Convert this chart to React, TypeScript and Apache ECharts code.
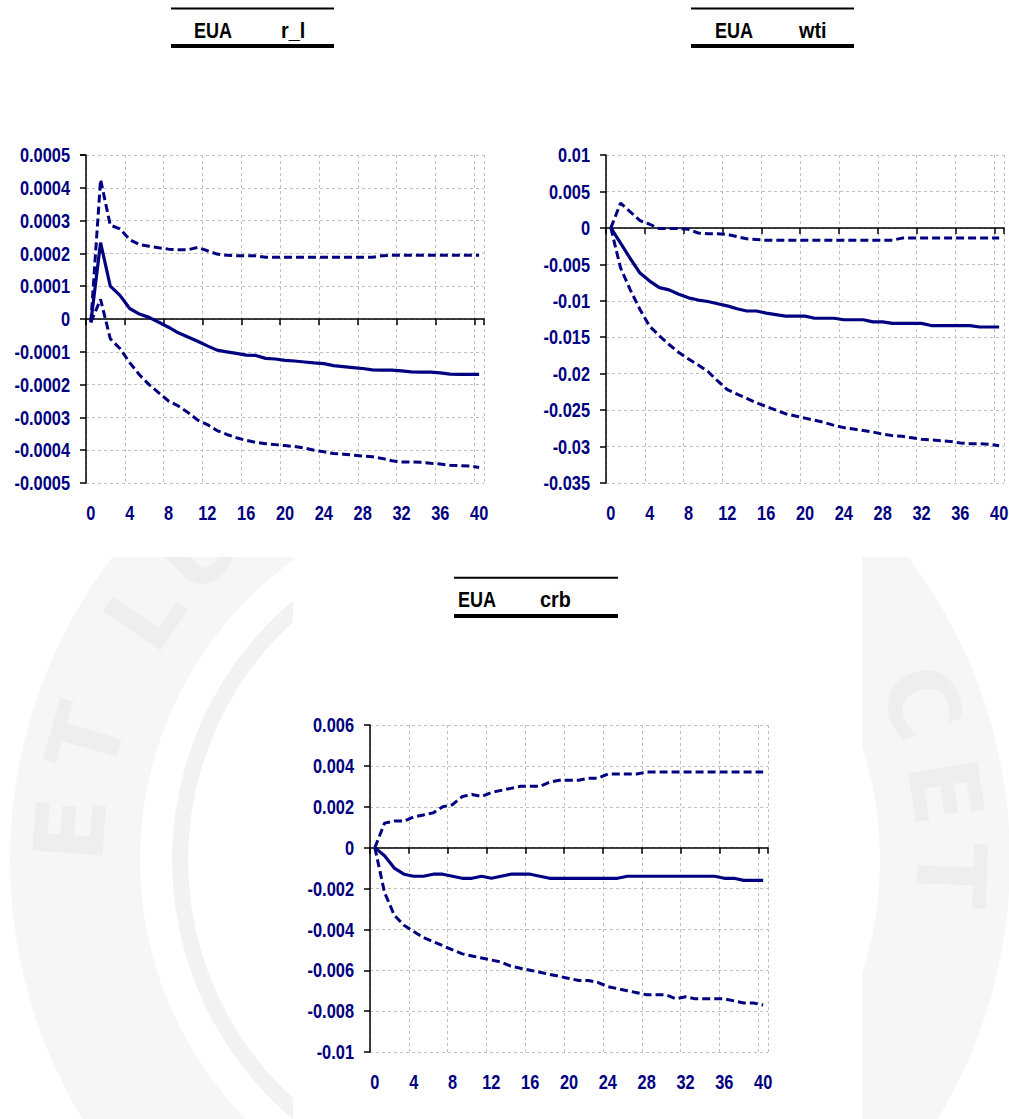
import { useEffect, useRef } from "react";
import * as echarts from "echarts";

const NAVY = "#000080";
const LABEL_FONT = 'bold 21px "Liberation Sans", Arial, sans-serif';
const TITLE_FONT = 'bold 22px "Liberation Sans", Arial, sans-serif';

// Horizon categories 0..40 and the ones that carry a tick label
const horizons: string[] = Array.from({ length: 41 }, (_, i) => String(i));
const xTickLabels = ["0", "4", "8", "12", "16", "20", "24", "28", "32", "36", "40"];

// ---------- EUA -> r_l ----------
const rlTickLabels = ["-0.0005", "-0.0004", "-0.0003", "-0.0002", "-0.0001", "0", "0.0001", "0.0002", "0.0003", "0.0004", "0.0005"];
const rlCenter = [
  -0.00001, 0.000233, 0.0001, 0.000072, 0.000032, 0.000015, 0.000005, -0.00001, -0.000025, -0.000042,
  -0.000055, -0.000068, -0.000082, -0.000095, -0.0001, -0.000105, -0.00011, -0.000111, -0.00012, -0.000122,
  -0.000126, -0.000128, -0.000131, -0.000134, -0.000136, -0.000142, -0.000145, -0.000148, -0.000151, -0.000155,
  -0.000156, -0.000156, -0.000158, -0.000161, -0.000162, -0.000162, -0.000164, -0.000168, -0.000169, -0.000169,
  -0.000169,
];
const rlUpper = [
  -0.00001, 0.000425, 0.000286, 0.000275, 0.000242, 0.000227, 0.000222, 0.000217, 0.000213, 0.000211,
  0.000211, 0.000218, 0.000208, 0.000198, 0.000194, 0.000193, 0.000193, 0.000193, 0.000188, 0.000188,
  0.000188, 0.000188, 0.000188, 0.000188, 0.000188, 0.000188, 0.000188, 0.000188, 0.000188, 0.000188,
  0.000193, 0.000194, 0.000194, 0.000194, 0.000194, 0.000194, 0.000194, 0.000194, 0.000194, 0.000194,
  0.000194,
];
const rlLower = [
  -0.00001, 0.00006, -0.00006, -0.00009, -0.000133, -0.00017, -0.0002, -0.000225, -0.00025, -0.000265,
  -0.000285, -0.000308, -0.000322, -0.00034, -0.000352, -0.000362, -0.00037, -0.000376, -0.00038, -0.000383,
  -0.000386, -0.000389, -0.000393, -0.0004, -0.000405, -0.00041, -0.000412, -0.000415, -0.000418, -0.00042,
  -0.000425, -0.000432, -0.000436, -0.000436, -0.000437, -0.00044, -0.000442, -0.000446, -0.000447, -0.000448,
  -0.000453,
];

// ---------- EUA -> wti ----------
const wtiTickLabels = ["-0.035", "-0.03", "-0.025", "-0.02", "-0.015", "-0.01", "-0.005", "0", "0.005", "0.01"];
const wtiCenter = [
  0, -0.0021, -0.0042, -0.0062, -0.0073, -0.0082, -0.0085, -0.0091, -0.0096, -0.0099,
  -0.0101, -0.0104, -0.0107, -0.0111, -0.0114, -0.0114, -0.0117, -0.0119, -0.0121, -0.0121,
  -0.0121, -0.0124, -0.0124, -0.0124, -0.0126, -0.0126, -0.0126, -0.0129, -0.0129, -0.0131,
  -0.0131, -0.0131, -0.0131, -0.0134, -0.0134, -0.0134, -0.0134, -0.0134, -0.0136, -0.0136,
  -0.0136,
];
const wtiUpper = [
  0, 0.0034, 0.0022, 0.001, 0.0005, -0.0001, -0.0001, -0.0001, -0.0002, -0.0007,
  -0.0008, -0.0008, -0.0009, -0.0012, -0.0015, -0.0016, -0.0017, -0.0017, -0.0017, -0.0017,
  -0.0017, -0.0017, -0.0017, -0.0017, -0.0017, -0.0017, -0.0017, -0.0017, -0.0017, -0.0017,
  -0.0014, -0.0014, -0.0014, -0.0014, -0.0014, -0.0014, -0.0014, -0.0014, -0.0014, -0.0014,
  -0.0014,
];
const wtiLower = [
  0, -0.0055, -0.0085, -0.0112, -0.0135, -0.0148, -0.016, -0.0171, -0.018, -0.0188,
  -0.0197, -0.021, -0.0222, -0.0228, -0.0234, -0.024, -0.0245, -0.025, -0.0255, -0.0258,
  -0.0261, -0.0264, -0.0267, -0.0271, -0.0274, -0.0276, -0.0278, -0.028, -0.0283, -0.0285,
  -0.0286, -0.0288, -0.029, -0.0291, -0.0292, -0.0293, -0.0295, -0.0296, -0.0296, -0.0297,
  -0.0299,
];

// ---------- EUA -> crb ----------
const crbTickLabels = ["-0.01", "-0.008", "-0.006", "-0.004", "-0.002", "0", "0.002", "0.004", "0.006"];
const crbCenter = [
  0, -0.0004, -0.001, -0.0013, -0.0014, -0.0014, -0.0013, -0.0013, -0.0014, -0.0015,
  -0.0015, -0.0014, -0.0015, -0.0014, -0.0013, -0.0013, -0.0013, -0.0014, -0.0015, -0.0015,
  -0.0015, -0.0015, -0.0015, -0.0015, -0.0015, -0.0015, -0.0014, -0.0014, -0.0014, -0.0014,
  -0.0014, -0.0014, -0.0014, -0.0014, -0.0014, -0.0014, -0.0015, -0.0015, -0.0016, -0.0016,
  -0.0016,
];
const crbUpper = [
  0, 0.0012, 0.0013, 0.0013, 0.0015, 0.0016, 0.0017, 0.002, 0.0021, 0.0025,
  0.0026, 0.0025, 0.0027, 0.0028, 0.0029, 0.003, 0.003, 0.003, 0.0032, 0.0033,
  0.0033, 0.0033, 0.0034, 0.0034, 0.0036, 0.0036, 0.0036, 0.0036, 0.0037, 0.0037,
  0.0037, 0.0037, 0.0037, 0.0037, 0.0037, 0.0037, 0.0037, 0.0037, 0.0037, 0.0037,
  0.0037,
];
const crbLower = [
  0, -0.0022, -0.0033, -0.0038, -0.0041, -0.0044, -0.0046, -0.0048, -0.005, -0.0052,
  -0.0053, -0.0054, -0.0055, -0.0056, -0.0058, -0.0059, -0.006, -0.0061, -0.0062, -0.0063,
  -0.0064, -0.0065, -0.0065, -0.0066, -0.0068, -0.0069, -0.007, -0.0071, -0.0072, -0.0072,
  -0.0072, -0.0074, -0.0073, -0.0074, -0.0074, -0.0074, -0.0074, -0.0075, -0.0076, -0.0076,
  -0.0077,
];

const titles = [
  ["EUA", "r_l"],
  ["EUA", "wti"],
  ["EUA", "crb"],
];

const panels = [
  {
    title: titles[0], yLabels: rlTickLabels, center: rlCenter, upper: rlUpper, lower: rlLower,
    grid: { left: 86, top: 155, width: 398, height: 328 },
    head: { x1: 171, x2: 334, yTop: 8.5, yBot: 46, t1x: 194, t2x: 281, ty: 30 },
  },
  {
    title: titles[1], yLabels: wtiTickLabels, center: wtiCenter, upper: wtiUpper, lower: wtiLower,
    grid: { left: 606, top: 155, width: 398, height: 328 },
    head: { x1: 691, x2: 854, yTop: 8.5, yBot: 46, t1x: 715, t2x: 799, ty: 30 },
  },
  {
    title: titles[2], yLabels: crbTickLabels, center: crbCenter, upper: crbUpper, lower: crbLower,
    grid: { left: 370, top: 725, width: 398, height: 327 },
    head: { x1: 454, x2: 618, yTop: 577.7, yBot: 616, t1x: 458, t2x: 540, ty: 599 },
  },
];

function baseGraphics(): any[] {
  const graphics: any[] = [];
  // faint watermark seal in the lower half of the page
  graphics.push({
    type: "ring", z: -20, silent: true,
    shape: { cx: 510, cy: 860, r: 500, r0: 370 },
    style: { fill: "#f6f6f6" },
  });
  graphics.push({
    type: "circle", z: -19, silent: true,
    shape: { cx: 510, cy: 860, r: 330 },
    style: { fill: "none", stroke: "#f2f2f2", lineWidth: 16 },
  });
  const letters = [
    { ch: "E", phi: 176 }, { ch: "T", phi: 164 }, { ch: "L", phi: 146 }, { ch: "U", phi: 135 },
    { ch: "C", phi: 21 }, { ch: "E", phi: 9 }, { ch: "T", phi: -2 },
  ];
  letters.forEach((l) => {
    const rad = (l.phi * Math.PI) / 180;
    graphics.push({
      type: "text", z: -18, silent: true,
      x: 510 + 440 * Math.cos(rad), y: 860 - 440 * Math.sin(rad),
      rotation: rad - Math.PI / 2,
      style: { text: l.ch, font: 'bold 96px "DejaVu Sans"', fill: "#eeeeee", align: "center", verticalAlign: "middle" },
    });
  });
  graphics.push({ type: "rect", z: -10, silent: true, shape: { x: 0, y: 0, width: 1009, height: 557 }, style: { fill: "#fff" } });
  graphics.push({ type: "rect", z: -10, silent: true, shape: { x: 293, y: 557, width: 569, height: 562 }, style: { fill: "#fff" } });

  panels.forEach((p) => {
    const h = p.head;
    graphics.push({ type: "line", shape: { x1: h.x1, y1: h.yTop, x2: h.x2, y2: h.yTop }, style: { stroke: "#000", lineWidth: 2 } });
    graphics.push({ type: "line", shape: { x1: h.x1, y1: h.yBot, x2: h.x2, y2: h.yBot }, style: { stroke: "#000", lineWidth: 4 } });
    graphics.push({ type: "text", x: h.t1x, y: h.ty, scaleX: 0.82, style: { text: p.title[0], font: TITLE_FONT, fill: "#000", align: "left", verticalAlign: "middle" } });
    graphics.push({ type: "text", x: h.t2x, y: h.ty, scaleX: 0.9, style: { text: p.title[1], font: TITLE_FONT, fill: "#000", align: "left", verticalAlign: "middle" } });
  });
  return graphics;
}

function buildOption() {
  const grids: any[] = [];
  const xAxes: any[] = [];
  const yAxes: any[] = [];
  const series: any[] = [];

  panels.forEach((p, k) => {
    grids.push({ left: p.grid.left, top: p.grid.top, width: p.grid.width, height: p.grid.height, containLabel: false });
    const yVals = p.yLabels.map(Number);
    const min = Math.min(...yVals);
    const max = Math.max(...yVals);
    const interval = yVals[1] - yVals[0];
    xAxes.push({
      type: "category", gridIndex: k, data: horizons, boundaryGap: true, position: "bottom",
      axisLine: { show: false, onZero: false },
      axisTick: { show: false },
      axisLabel: { show: false },
      splitLine: { show: true, interval: 3, lineStyle: { color: "#c0c0c0", type: [3, 3], width: 1 } },
    });
    xAxes.push({
      type: "category", gridIndex: k, data: horizons, boundaryGap: true, position: "top",
      axisLine: { show: true, onZero: true, lineStyle: { color: "#000", width: 1.5 } },
      axisTick: { show: true, inside: true, interval: 3, length: 6, lineStyle: { color: "#000", width: 1.5 } },
      axisLabel: { show: false },
      splitLine: { show: false },
    });
    yAxes.push({
      type: "value", gridIndex: k, min, max, interval,
      axisLine: { show: true, onZero: false, lineStyle: { color: "#000", width: 1.5 } },
      axisTick: { show: true, length: 6, lineStyle: { color: "#000", width: 1.5 } },
      axisLabel: { show: false },
      splitLine: { show: true, lineStyle: { color: "#c0c0c0", type: [3, 3], width: 1 } },
    });
    const base = { type: "line", xAxisIndex: 2 * k, yAxisIndex: k, symbol: "none", silent: true, z: 3 };
    series.push({ ...base, name: `${p.title[1]} upper`, data: p.upper, lineStyle: { color: NAVY, width: 3, type: [8, 4] } });
    series.push({ ...base, name: `${p.title[1]} lower`, data: p.lower, lineStyle: { color: NAVY, width: 3, type: [8, 4] } });
    series.push({ ...base, name: `${p.title[1]} response`, data: p.center, lineStyle: { color: NAVY, width: 3.2, type: "solid" } });
  });

  return {
    animation: false,
    backgroundColor: "#fff",
    grid: grids,
    xAxis: xAxes,
    yAxis: yAxes,
    series,
    graphic: baseGraphics(),
  };
}

// Tick labels drawn as condensed text at positions taken from the axes' own scales
function tickLabelGraphics(chart: echarts.ECharts): any[] {
  const out: any[] = [];
  panels.forEach((p, k) => {
    const finder = { xAxisIndex: 2 * k, yAxisIndex: k };
    const yMin = Math.min(...p.yLabels.map(Number));
    p.yLabels.forEach((lbl) => {
      const pt = chart.convertToPixel(finder as any, [0, Number(lbl)]) as number[];
      out.push({
        type: "text", x: p.grid.left - 16, y: pt[1], scaleX: 0.78,
        style: { text: lbl, font: LABEL_FONT, fill: NAVY, align: "right", verticalAlign: "middle" },
      });
    });
    xTickLabels.forEach((lbl) => {
      const pt = chart.convertToPixel(finder as any, [horizons.indexOf(lbl), yMin]) as number[];
      out.push({
        type: "text", x: pt[0], y: pt[1] + 30, scaleX: 0.78,
        style: { text: lbl, font: LABEL_FONT, fill: NAVY, align: "center", verticalAlign: "middle" },
      });
    });
  });
  return out;
}

export default function App() {
  const ref = useRef<HTMLDivElement>(null);
  useEffect(() => {
    const chart = echarts.init(ref.current!, undefined, { renderer: "svg", width: 1009, height: 1119 });
    chart.setOption(buildOption() as any);
    chart.setOption({ graphic: [...baseGraphics(), ...tickLabelGraphics(chart)] } as any, { replaceMerge: ["graphic"] } as any);
    return () => chart.dispose();
  }, []);
  return (
    <div
      ref={ref}
      style={{ position: "absolute", left: 0, top: 0, width: 1009, height: 1119, background: "#fff" }}
    />
  );
}
